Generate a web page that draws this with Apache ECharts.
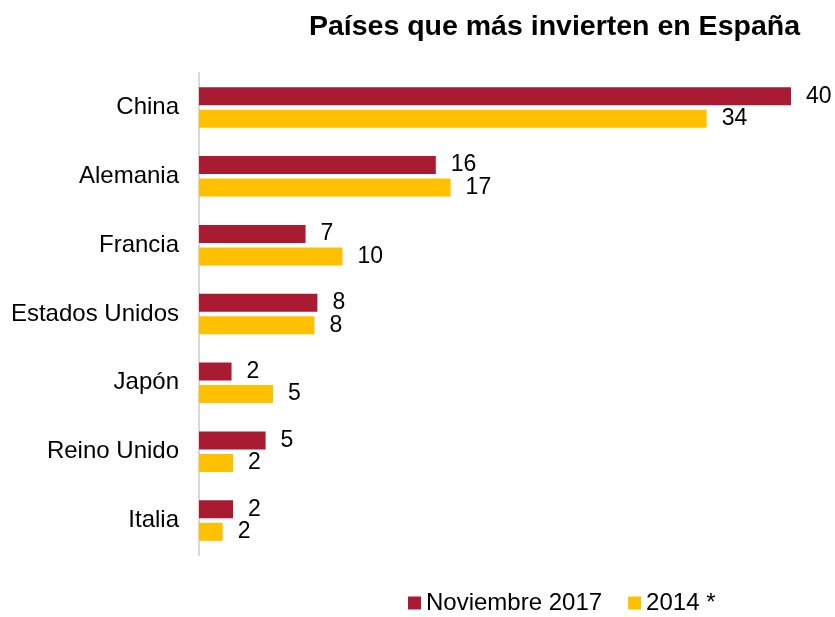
<!DOCTYPE html>
<html>
<head>
<meta charset="utf-8">
<script src="https://cdn.jsdelivr.net/npm/echarts@6/dist/echarts.min.js"></script>
<style>
  html, body { margin: 0; padding: 0; background: #fff; }
  #chart { width: 835px; height: 617px; }
</style>
</head>
<body>
<div id="chart"></div>
<script>
  // paises y valores
  const paises = ['China', 'Alemania', 'Francia', 'Estados Unidos', 'Japón', 'Reino Unido', 'Italia'];
  const nov2017 = [40, 16, 7.2, 8, 2.2, 4.5, 2.3];
  const anio2014 = [34.3, 17, 9.7, 7.8, 5, 2.3, 1.6];

  const myChart = echarts.init(document.getElementById('chart'));
  const fuente = 'Liberation Sans, Arial, sans-serif';

  const etiqueta = {
    show: true,
    position: 'right',
    distance: 15,
    color: '#000',
    fontSize: 23,
    fontFamily: fuente,
    formatter: p => Math.round(p.value)
  };

  const option = {
    animation: false,
    title: {
      text: 'Países que más invierten en España',
      right: 30,
      top: 8,
      textStyle: { fontSize: 28.5, fontWeight: 'bold', color: '#000', fontFamily: fuente }
    },
    legend: {
      top: 591,
      left: 408,
      padding: 0,
      itemWidth: 13,
      itemHeight: 13,
      itemGap: 26,
      icon: 'rect',
      textStyle: { fontSize: 24, color: '#000', fontFamily: fuente },
      data: ['Noviembre 2017', '2014 *']
    },
    grid: { left: 199, right: 44, top: 73, bottom: 62 },
    xAxis: {
      type: 'value',
      min: 0,
      max: 40,
      show: false
    },
    yAxis: {
      type: 'category',
      inverse: true,
      data: paises,
      axisLine: { lineStyle: { color: '#d9d9d9', width: 2 } },
      axisTick: { show: false },
      axisLabel: { fontSize: 24, color: '#000', fontFamily: fuente, margin: 20 }
    },
    series: [
      {
        name: 'Noviembre 2017',
        type: 'bar',
        data: nov2017,
        barWidth: 18,
        barGap: '25%',
        itemStyle: { color: '#A91B30' },
        label: etiqueta
      },
      {
        name: '2014 *',
        type: 'bar',
        data: anio2014,
        barWidth: 18,
        itemStyle: { color: '#FFC000' },
        label: etiqueta
      }
    ]
  };
  myChart.setOption(option);
</script>
</body>
</html>
